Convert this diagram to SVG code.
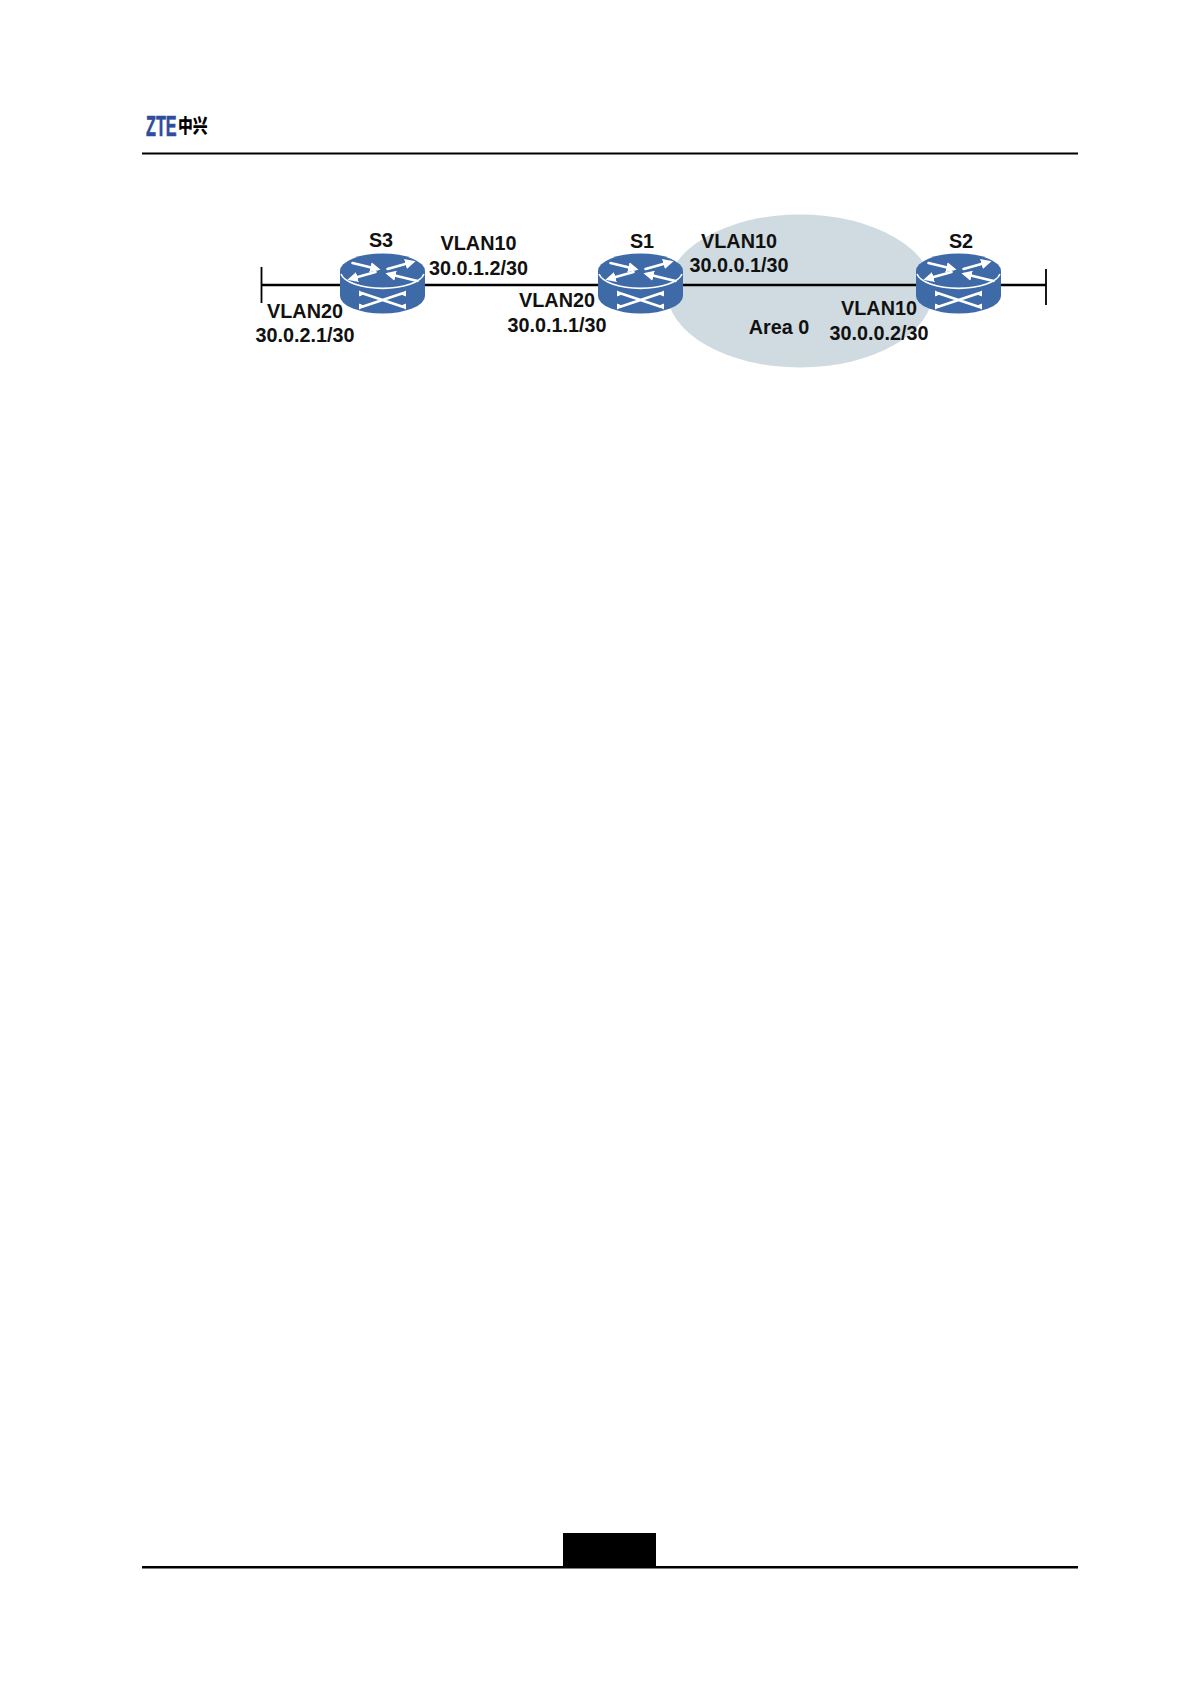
<svg xmlns="http://www.w3.org/2000/svg" width="1191" height="1684" viewBox="0 0 1191 1684">
<style>
text{font-family:"Liberation Sans",Arial,sans-serif;font-weight:bold;font-size:19.8px;fill:#111;text-anchor:middle}
.w{stroke:#fff;fill:none;stroke-width:2.6;stroke-linecap:round}
.l{stroke:#000;stroke-width:2.5;fill:none}
</style>
<defs>
<marker id="h" viewBox="0 0 10 10" refX="7" refY="5" markerWidth="4" markerHeight="4" orient="auto"><path d="M0 0L10 5L0 10Z" fill="#fff"/></marker>
<g id="router">
<path d="M-42.500 0V25A42.500 17.500 0 0 0 42.500 25V0Z" fill="#3f6aa8"/>
<ellipse cx="0" cy="0" rx="42.500" ry="17.500" fill="#3f6aa8"/>
<path d="M-41.500 3A42 17 0 0 0 41.500 3" fill="none" stroke="#fff" stroke-width="1.600"/>
<path class="w" marker-end="url(#h)" d="M-30-8L-5-2"/>
<path class="w" marker-end="url(#h)" d="M-7 1L-32 8"/>
<path class="w" marker-end="url(#h)" d="M5-2L30-9"/>
<path class="w" marker-end="url(#h)" d="M35 10L6 3"/>
<path class="w" d="M-21 22L21 36M-21 36L21 22" stroke-width="3"/>
<path d="M-23 20L-19 23L-23 25ZM23 20L19 23L23 25ZM-23 38L-19 35L-23 33ZM23 38L19 35L23 33Z" fill="#fff" stroke="#fff" stroke-linejoin="round"/>
</g>
</defs>
<rect width="1191" height="1684" fill="#fff"/>
<g id="header">
<text transform="translate(146 136) scale(0.560 1)" style="font-size:29px;fill:#2f4d9c;stroke:#2f4d9c;stroke-width:0.600;text-anchor:start">ZTE</text>
<text transform="translate(178 133) scale(1 1.300)" style="font-family:'Noto Sans CJK SC','Liberation Sans',sans-serif;font-size:14.800px;fill:#000;font-weight:900;text-anchor:start">中兴</text>
<rect x="142" y="152.500" width="936" height="2"/>
</g>
<g id="area-0">
<ellipse cx="800" cy="291" rx="133" ry="76.500" fill="#cfdbe0"/>
<text x="779" y="334">Area 0</text>
</g>
<g id="connectors">
<path class="l" d="M262 285H1046"/>
<path d="M261.500 267V303M1046 269V305" stroke="#000" stroke-width="1.800" fill="none"/>
</g>
<g id="S3"><use href="#router" x="382.500" y="271"/><text x="381" y="247">S3</text></g>
<g id="S1"><use href="#router" x="640.500" y="271"/><text x="642" y="248">S1</text></g>
<g id="S2"><use href="#router" x="958.500" y="271"/><text x="961" y="248">S2</text></g>
<g id="labels">
<text x="478.500" y="250">VLAN10</text>
<text x="478.500" y="275">30.0.1.2/30</text>
<text x="305" y="318">VLAN20</text>
<text x="305" y="342">30.0.2.1/30</text>
<text x="557" y="307">VLAN20</text>
<text x="557" y="332">30.0.1.1/30</text>
<text x="739" y="248">VLAN10</text>
<text x="739" y="272">30.0.0.1/30</text>
<text x="879" y="315">VLAN10</text>
<text x="879" y="340">30.0.0.2/30</text>
</g>
<g id="footer">
<rect x="563" y="1533" width="93" height="34"/>
<rect x="142" y="1566" width="936" height="2.500"/>
</g>
</svg>
